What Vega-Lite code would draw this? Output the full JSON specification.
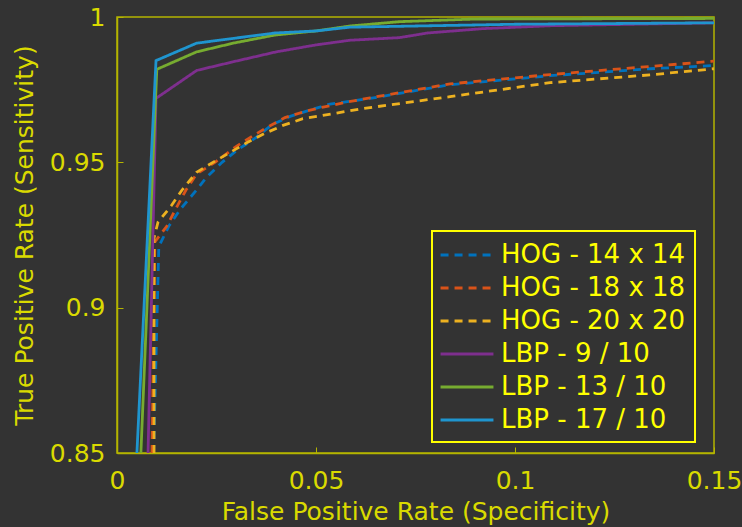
{
  "$schema": "https://vega.github.io/schema/vega-lite/v6.json",
  "width": 597,
  "height": 436,
  "autosize": {"type": "none"},
  "padding": {"left": 117, "top": 17, "right": 28, "bottom": 74},
  "background": "#333333",
  "config": {
    "font": "DejaVu Sans",
    "view": {"stroke": "#b4b400", "strokeWidth": 1.5, "fill": "#333333"},
    "axis": {
      "domainColor": "#b4b400",
      "tickColor": "#b4b400",
      "labelColor": "#dada00",
      "titleColor": "#dada00",
      "labelFont": "DejaVu Sans",
      "titleFont": "DejaVu Sans",
      "labelFontSize": 25,
      "titleFontSize": 25,
      "titleFontWeight": "normal",
      "grid": false,
      "tickSize": -6,
      "domainWidth": 1.5
    }
  },
  "data": {
    "values": [
      {"series": "HOG - 14 x 14", "fpr": 0.0092, "tpr": 0.85},
      {"series": "HOG - 14 x 14", "fpr": 0.0105, "tpr": 0.921},
      {"series": "HOG - 14 x 14", "fpr": 0.013, "tpr": 0.928},
      {"series": "HOG - 14 x 14", "fpr": 0.016, "tpr": 0.934},
      {"series": "HOG - 14 x 14", "fpr": 0.02, "tpr": 0.9405},
      {"series": "HOG - 14 x 14", "fpr": 0.0226, "tpr": 0.945},
      {"series": "HOG - 14 x 14", "fpr": 0.0264, "tpr": 0.95},
      {"series": "HOG - 14 x 14", "fpr": 0.03, "tpr": 0.954},
      {"series": "HOG - 14 x 14", "fpr": 0.035, "tpr": 0.9586},
      {"series": "HOG - 14 x 14", "fpr": 0.039, "tpr": 0.963},
      {"series": "HOG - 14 x 14", "fpr": 0.0435, "tpr": 0.9658},
      {"series": "HOG - 14 x 14", "fpr": 0.0485, "tpr": 0.968},
      {"series": "HOG - 14 x 14", "fpr": 0.0535, "tpr": 0.97},
      {"series": "HOG - 14 x 14", "fpr": 0.0636, "tpr": 0.972},
      {"series": "HOG - 14 x 14", "fpr": 0.0837, "tpr": 0.9767},
      {"series": "HOG - 14 x 14", "fpr": 0.1088, "tpr": 0.9798},
      {"series": "HOG - 14 x 14", "fpr": 0.134, "tpr": 0.9822},
      {"series": "HOG - 14 x 14", "fpr": 0.15, "tpr": 0.9833},
      {"series": "HOG - 18 x 18", "fpr": 0.0088, "tpr": 0.85},
      {"series": "HOG - 18 x 18", "fpr": 0.0095, "tpr": 0.9226},
      {"series": "HOG - 18 x 18", "fpr": 0.0125, "tpr": 0.928},
      {"series": "HOG - 18 x 18", "fpr": 0.015, "tpr": 0.9346},
      {"series": "HOG - 18 x 18", "fpr": 0.0173, "tpr": 0.9404},
      {"series": "HOG - 18 x 18", "fpr": 0.02, "tpr": 0.946},
      {"series": "HOG - 18 x 18", "fpr": 0.0246, "tpr": 0.95},
      {"series": "HOG - 18 x 18", "fpr": 0.03, "tpr": 0.9555},
      {"series": "HOG - 18 x 18", "fpr": 0.034, "tpr": 0.959},
      {"series": "HOG - 18 x 18", "fpr": 0.0377, "tpr": 0.962},
      {"series": "HOG - 18 x 18", "fpr": 0.0422, "tpr": 0.9654},
      {"series": "HOG - 18 x 18", "fpr": 0.0472, "tpr": 0.9675},
      {"series": "HOG - 18 x 18", "fpr": 0.0518, "tpr": 0.969},
      {"series": "HOG - 18 x 18", "fpr": 0.0573, "tpr": 0.9706},
      {"series": "HOG - 18 x 18", "fpr": 0.0636, "tpr": 0.9722},
      {"series": "HOG - 18 x 18", "fpr": 0.0837, "tpr": 0.977},
      {"series": "HOG - 18 x 18", "fpr": 0.1088, "tpr": 0.9802},
      {"series": "HOG - 18 x 18", "fpr": 0.134, "tpr": 0.983},
      {"series": "HOG - 18 x 18", "fpr": 0.15, "tpr": 0.9848},
      {"series": "HOG - 20 x 20", "fpr": 0.0093, "tpr": 0.85},
      {"series": "HOG - 20 x 20", "fpr": 0.0093, "tpr": 0.924},
      {"series": "HOG - 20 x 20", "fpr": 0.0103, "tpr": 0.9294},
      {"series": "HOG - 20 x 20", "fpr": 0.0136, "tpr": 0.935},
      {"series": "HOG - 20 x 20", "fpr": 0.0163, "tpr": 0.9404},
      {"series": "HOG - 20 x 20", "fpr": 0.02, "tpr": 0.9466},
      {"series": "HOG - 20 x 20", "fpr": 0.0241, "tpr": 0.95},
      {"series": "HOG - 20 x 20", "fpr": 0.0284, "tpr": 0.9534},
      {"series": "HOG - 20 x 20", "fpr": 0.0327, "tpr": 0.9568},
      {"series": "HOG - 20 x 20", "fpr": 0.0372, "tpr": 0.96},
      {"series": "HOG - 20 x 20", "fpr": 0.0417, "tpr": 0.9627},
      {"series": "HOG - 20 x 20", "fpr": 0.0467, "tpr": 0.965},
      {"series": "HOG - 20 x 20", "fpr": 0.0618, "tpr": 0.9685},
      {"series": "HOG - 20 x 20", "fpr": 0.0837, "tpr": 0.9726},
      {"series": "HOG - 20 x 20", "fpr": 0.1088, "tpr": 0.9774},
      {"series": "HOG - 20 x 20", "fpr": 0.134, "tpr": 0.9801},
      {"series": "HOG - 20 x 20", "fpr": 0.15, "tpr": 0.9822},
      {"series": "LBP - 9 / 10", "fpr": 0.0078, "tpr": 0.85},
      {"series": "LBP - 9 / 10", "fpr": 0.0098, "tpr": 0.972},
      {"series": "LBP - 9 / 10", "fpr": 0.02, "tpr": 0.9816},
      {"series": "LBP - 9 / 10", "fpr": 0.0292, "tpr": 0.9846},
      {"series": "LBP - 9 / 10", "fpr": 0.04, "tpr": 0.988},
      {"series": "LBP - 9 / 10", "fpr": 0.05, "tpr": 0.9904},
      {"series": "LBP - 9 / 10", "fpr": 0.0585, "tpr": 0.992},
      {"series": "LBP - 9 / 10", "fpr": 0.071, "tpr": 0.9929},
      {"series": "LBP - 9 / 10", "fpr": 0.078, "tpr": 0.9945},
      {"series": "LBP - 9 / 10", "fpr": 0.092, "tpr": 0.996},
      {"series": "LBP - 9 / 10", "fpr": 0.109, "tpr": 0.997},
      {"series": "LBP - 9 / 10", "fpr": 0.15, "tpr": 0.998},
      {"series": "LBP - 13 / 10", "fpr": 0.006, "tpr": 0.85},
      {"series": "LBP - 13 / 10", "fpr": 0.01, "tpr": 0.982},
      {"series": "LBP - 13 / 10", "fpr": 0.02, "tpr": 0.988},
      {"series": "LBP - 13 / 10", "fpr": 0.0292, "tpr": 0.991},
      {"series": "LBP - 13 / 10", "fpr": 0.0397, "tpr": 0.9938},
      {"series": "LBP - 13 / 10", "fpr": 0.05, "tpr": 0.9952},
      {"series": "LBP - 13 / 10", "fpr": 0.0585, "tpr": 0.9969},
      {"series": "LBP - 13 / 10", "fpr": 0.071, "tpr": 0.9984},
      {"series": "LBP - 13 / 10", "fpr": 0.09, "tpr": 0.9993},
      {"series": "LBP - 13 / 10", "fpr": 0.15, "tpr": 0.9995},
      {"series": "LBP - 17 / 10", "fpr": 0.005, "tpr": 0.85},
      {"series": "LBP - 17 / 10", "fpr": 0.0098, "tpr": 0.985},
      {"series": "LBP - 17 / 10", "fpr": 0.02, "tpr": 0.991},
      {"series": "LBP - 17 / 10", "fpr": 0.0397, "tpr": 0.9945},
      {"series": "LBP - 17 / 10", "fpr": 0.05, "tpr": 0.9952},
      {"series": "LBP - 17 / 10", "fpr": 0.0585, "tpr": 0.9965},
      {"series": "LBP - 17 / 10", "fpr": 0.1, "tpr": 0.9975},
      {"series": "LBP - 17 / 10", "fpr": 0.15, "tpr": 0.998}
    ]
  },
  "layer": [
    {
      "mark": {"type": "line", "strokeWidth": 2.8, "clip": true},
      "encoding": {
        "x": {
          "field": "fpr", "type": "quantitative",
          "scale": {"domain": [0, 0.15], "nice": false, "zero": false},
          "axis": {"values": [0, 0.05, 0.1, 0.15], "labelExpr": "datum.value > 0.12 ? '0.15' : datum.label", "format": "~g", "title": "False Positive Rate (Specificity)", "labelPadding": 21, "titlePadding": 6, "labelFlush": false, "labelOverlap": false}
        },
        "y": {
          "field": "tpr", "type": "quantitative",
          "scale": {"domain": [0.85, 1], "nice": false, "zero": false},
          "axis": {"values": [0.85, 0.9, 0.95, 1], "format": "~g", "title": "True Positive Rate (Sensitivity)", "labelPadding": 18, "titlePadding": 12, "labelFlush": false, "labelOverlap": false}
        },
        "color": {
          "field": "series", "type": "nominal",
          "scale": {
            "domain": ["HOG - 14 x 14", "HOG - 18 x 18", "HOG - 20 x 20", "LBP - 9 / 10", "LBP - 13 / 10", "LBP - 17 / 10"],
            "range": ["#0072BD", "#D95319", "#EDB120", "#7E2F8E", "#77AC30", "#1f95cf"]
          },
          "legend": {
            "title": null,
            "orient": "none",
            "legendX": 315,
            "legendY": 214,
            "fillColor": "#333333",
            "strokeColor": "#ffff00",
            "padding": 9,
            "labelColor": "#ffff00",
            "labelFont": "DejaVu Sans",
            "labelFontSize": 26,
            "labelOffset": 19,
            "labelLimit": 400,
            "symbolType": "M-2,0H2",
            "symbolSize": 700,
            "symbolOffset": 11,
            "symbolStrokeWidth": 2.8,
            "rowPadding": 5,
            "encode": {"legend": {"update": {"strokeWidth": {"value": 2}}}}
          }
        },
        "strokeDash": {
          "field": "series", "type": "nominal",
          "scale": {
            "domain": ["HOG - 14 x 14", "HOG - 18 x 18", "HOG - 20 x 20", "LBP - 9 / 10", "LBP - 13 / 10", "LBP - 17 / 10"],
            "range": [[8, 6], [8, 6], [8, 6], [1, 0], [1, 0], [1, 0]]
          },
          "legend": null
        }
      }
    }
  ]
}
